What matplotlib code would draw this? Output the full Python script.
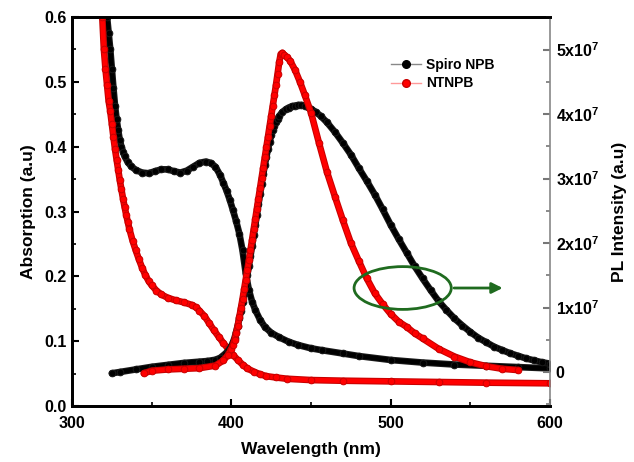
import matplotlib
matplotlib.use("Agg")
import matplotlib.pyplot as plt
from matplotlib.patches import Ellipse
from matplotlib.ticker import MultipleLocator, FixedLocator

plt.rcParams['font.family'] = ['Liberation Sans', 'DejaVu Sans']
plt.rcParams['font.weight'] = 'bold'
plt.rcParams['mathtext.fontset'] = 'custom'
plt.rcParams['mathtext.bf'] = 'Liberation Sans:bold'
plt.rcParams['mathtext.rm'] = 'Liberation Sans:bold'

# ---- Absorption: Spiro NPB (black) ----
abs_spiro_wl = [322, 323, 324, 325, 326, 327, 328, 329, 330, 331, 332, 333, 335, 337, 340, 344, 348,
                352, 356, 360, 364, 368, 372, 376, 380, 384, 387, 390, 393, 395, 397, 399, 401, 403,
                405, 407, 409, 411, 413, 415, 418, 421, 425, 430, 436, 442, 450, 457, 470, 480, 500,
                520, 540, 560, 580, 600]
abs_spiro = [0.600, 0.575, 0.550, 0.520, 0.490, 0.463, 0.442, 0.425, 0.410, 0.400, 0.392, 0.385, 0.376,
             0.370, 0.364, 0.360, 0.359, 0.362, 0.365, 0.365, 0.362, 0.360, 0.363, 0.369, 0.375, 0.377,
             0.375, 0.369, 0.356, 0.344, 0.332, 0.318, 0.302, 0.285, 0.266, 0.240, 0.205, 0.179, 0.161,
             0.148, 0.133, 0.122, 0.113, 0.106, 0.099, 0.094, 0.089, 0.086, 0.081, 0.077, 0.071, 0.067,
             0.064, 0.062, 0.060, 0.058]

# ---- Absorption: NTNPB (red) ----
abs_nt_wl = [319, 320, 321, 322, 323, 324, 325, 326, 327, 328, 329, 330, 331, 332, 333, 334, 335, 336,
             338, 340, 342, 344, 346, 348, 350, 353, 356, 360, 365, 370, 375, 378, 380, 383, 386, 389,
             392, 395, 398, 401, 404, 407, 410, 414, 418, 422, 428, 435, 450, 470, 500, 530, 560, 600]
abs_nt = [0.600, 0.550, 0.520, 0.495, 0.470, 0.455, 0.435, 0.415, 0.396, 0.380, 0.364, 0.348, 0.334,
          0.320, 0.307, 0.295, 0.284, 0.273, 0.255, 0.240, 0.226, 0.213, 0.202, 0.193, 0.186, 0.178,
          0.172, 0.167, 0.163, 0.160, 0.156, 0.152, 0.147, 0.139, 0.128, 0.117, 0.107, 0.097, 0.088,
          0.079, 0.071, 0.064, 0.058, 0.053, 0.049, 0.046, 0.044, 0.042, 0.040, 0.039, 0.038, 0.037,
          0.036, 0.035]

# ---- PL: Spiro NPB (black), units of 1e7 ----
pl_spiro_wl = [325, 330, 340, 350, 360, 370, 380, 385, 390, 393, 396, 398, 400, 401, 402, 403, 404, 405,
               406, 407, 408, 409, 410, 411, 412, 413, 414, 415, 416, 417, 418, 419, 420, 421, 422, 423,
               424, 425, 426, 427, 428, 429, 430, 432, 434, 436, 438, 440, 442, 444, 446, 448, 450, 453,
               456, 460, 465, 470, 475, 480, 485, 490, 495, 500, 505, 510, 515, 520, 525, 530, 535, 540,
               545, 550, 555, 560, 565, 570, 575, 580, 585, 590, 595, 600]
pl_spiro = [-0.02, 0.00, 0.04, 0.08, 0.11, 0.14, 0.16, 0.17, 0.19, 0.22, 0.28, 0.33, 0.40, 0.46, 0.53,
            0.62, 0.72, 0.83, 0.95, 1.08, 1.21, 1.35, 1.50, 1.65, 1.80, 1.96, 2.12, 2.28, 2.44, 2.60,
            2.76, 2.92, 3.07, 3.21, 3.34, 3.46, 3.57, 3.67, 3.75, 3.82, 3.88, 3.93, 3.97, 4.03, 4.07,
            4.10, 4.12, 4.13, 4.14, 4.14, 4.13, 4.11, 4.08, 4.03, 3.97, 3.87, 3.72, 3.55, 3.37, 3.16,
            2.96, 2.75, 2.52, 2.28, 2.06, 1.85, 1.64, 1.45, 1.27, 1.10, 0.96, 0.83, 0.72, 0.62, 0.53,
            0.46, 0.39, 0.34, 0.29, 0.25, 0.21, 0.18, 0.15, 0.13]

# ---- PL: NTNPB (red), units of 1e7 ----
pl_nt_wl = [345, 350, 360, 370, 380, 390, 395, 398, 400, 401, 402, 403, 404, 405, 406, 407, 408, 409,
            410, 411, 412, 413, 414, 415, 416, 417, 418, 419, 420, 421, 422, 423, 424, 425, 426, 427,
            428, 429, 430, 431, 432, 433, 435, 437, 440, 443, 446, 450, 455, 460, 465, 470, 475, 480,
            485, 490, 495, 500, 505, 510, 515, 520, 530, 540, 550, 560, 570, 580]
pl_nt = [-0.02, 0.02, 0.04, 0.05, 0.06, 0.10, 0.18, 0.27, 0.36, 0.42, 0.50, 0.60, 0.72, 0.85, 0.99,
         1.13, 1.28, 1.43, 1.58, 1.73, 1.89, 2.05, 2.21, 2.37, 2.53, 2.69, 2.85, 3.01, 3.17, 3.33,
         3.49, 3.65, 3.81, 3.97, 4.13, 4.29, 4.45, 4.62, 4.80, 4.93, 4.95, 4.92, 4.88, 4.82, 4.68,
         4.50, 4.30, 4.02, 3.55, 3.10, 2.72, 2.35, 2.00, 1.72, 1.45, 1.22, 1.05, 0.90, 0.78, 0.70,
         0.60, 0.52, 0.36, 0.24, 0.15, 0.09, 0.05, 0.03]

legend_labels = ["Spiro NPB", "NTNPB"]
x_ticks = [300, 400, 500, 600]
left_ticks = [0.0, 0.1, 0.2, 0.3, 0.4, 0.5, 0.6]
right_ticks = [0, 1, 2, 3, 4, 5]

BLACK = '#000000'
RED = '#ff0000'
TICK_FS = 11.5
LABEL_FS = 12.5

fig = plt.figure(figsize=(6.34, 4.62), dpi=100)
ax = fig.add_axes([0.1136, 0.1212, 0.754, 0.842])
ax2 = ax.twinx()


def draw(a, x, y, color, edge, z):
    a.plot(x, y, '-', color=edge, lw=4.8, solid_capstyle='round', solid_joinstyle='round', zorder=z)
    a.plot(x, y, '-', color=color, lw=3.3, solid_capstyle='round', solid_joinstyle='round', zorder=z + 0.05)
    a.plot(x, y, 'o', ms=4.8, mfc=color, mec=edge, mew=0.7, zorder=z + 0.1)


draw(ax, abs_spiro_wl, abs_spiro, BLACK, '#1a1a1a', 2)
draw(ax, abs_nt_wl, abs_nt, RED, '#c80000', 3)
draw(ax2, pl_spiro_wl, pl_spiro, BLACK, '#1a1a1a', 2)
draw(ax2, pl_nt_wl, pl_nt, RED, '#c80000', 3)

ax.set_xlim(300, 600)
ax.set_ylim(0.0, 0.6)
ax2.set_ylim(-0.527, 5.504)

ax.xaxis.set_major_locator(FixedLocator(x_ticks))
ax.xaxis.set_minor_locator(MultipleLocator(50))
ax.yaxis.set_major_locator(FixedLocator(left_ticks))
ax.yaxis.set_minor_locator(MultipleLocator(0.05))
ax.set_xticklabels([str(v) for v in x_ticks], fontsize=TICK_FS, fontweight='bold')
ax.set_yticklabels(["%.1f" % v for v in left_ticks], fontsize=TICK_FS, fontweight='bold')
ax2.yaxis.set_major_locator(FixedLocator(right_ticks))
ax2.yaxis.set_minor_locator(MultipleLocator(0.5))
ax2.set_yticklabels(["0"] + [r"$\mathbf{%dx10^{7}}$" % v for v in right_ticks[1:]],
                    fontsize=TICK_FS, fontweight='bold')

for a in (ax, ax2):
    a.tick_params(which='both', direction='in')
    a.tick_params(which='major', length=5, width=1.5)
    a.tick_params(which='minor', length=3, width=1.2)
ax.tick_params(axis='both', which='both', top=False, right=False)
ax.tick_params(axis='x', pad=7)
ax.tick_params(axis='y', pad=4)
ax2.tick_params(axis='y', which='both', colors='#777777', labelcolor='black', pad=4)

for s in ['left', 'bottom', 'top']:
    ax.spines[s].set_linewidth(2.0)
    ax2.spines[s].set_linewidth(2.0)
ax2.spines['right'].set_color('#888888')
ax2.spines['right'].set_linewidth(1.2)
ax.spines['right'].set_visible(False)

ax.set_xlabel("Wavelength (nm)", fontsize=LABEL_FS, fontweight='bold', labelpad=8)
ax.set_ylabel("Absorption (a.u)", fontsize=LABEL_FS, fontweight='bold', labelpad=6)
ax2.set_ylabel("PL Intensity (a.u)", fontsize=LABEL_FS, fontweight='bold', labelpad=9)

# legend
h1, = ax2.plot([], [], '-', color='#888888', lw=1, marker='o', ms=5.5, mfc=BLACK, mec=BLACK)
h2, = ax2.plot([], [], '-', color='#ff9999', lw=1, marker='o', ms=5.5, mfc=RED, mec='#c80000')
leg = ax2.legend([h1, h2], legend_labels, loc='upper left', bbox_to_anchor=(0.655, 0.91),
                 frameon=False, fontsize=10, handlelength=2.2, handletextpad=0.35,
                 labelspacing=0.35, borderaxespad=0)
for t in leg.get_texts():
    t.set_fontweight('bold')

# green ellipse and arrow (placed in right-axis data units)
GREEN = '#1f6b1f'
yg = (0.182 / 0.6) * (5.504 + 0.527) - 0.527
hg = 0.066 / 0.6 * (5.504 + 0.527)
ax2.add_patch(Ellipse((507.5, yg), width=61, height=hg, fill=False, edgecolor=GREEN, lw=2.0, zorder=6))
ax2.annotate('', xy=(572, yg), xytext=(538, yg),
             arrowprops=dict(arrowstyle='-|>', color=GREEN, lw=2.0, mutation_scale=16), zorder=6)

fig.savefig("out.png", dpi=100)
